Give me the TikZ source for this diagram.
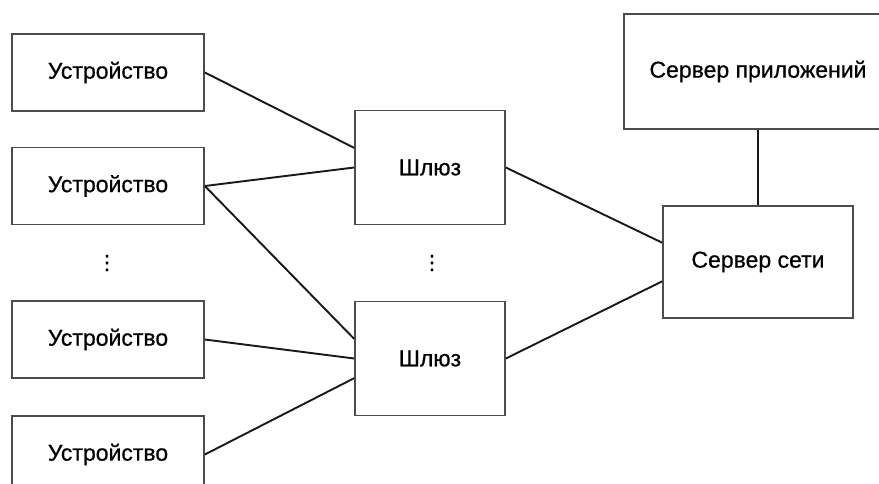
\documentclass[tikz,border=0pt]{standalone}
\usepackage{fontspec}
\setmainfont{Liberation Sans}
\newfontfamily\lblfont{Liberation Sans}[FakeBold=0.6]
\newfontfamily\symfont{DejaVu Sans}[FakeBold=1]
\usetikzlibrary{calc}
\begin{document}
\begin{tikzpicture}[x=1pt,y=-1pt,
	box/.style={draw=black!70,line width=1.7pt,fill=white,inner sep=0pt,font=\fontsize{23}{26}\lblfont},
	devbox/.style={box,minimum width=192pt,minimum height=77pt},
	gwbox/.style={box,minimum width=150pt,minimum height=114pt},
	dots/.style={inner sep=0pt,font=\fontsize{20}{24}\symfont},
	link/.style={line width=1.9pt,black!90}]
	\clip (0,0) rectangle (879,483);
	\fill[white] (0,0) rectangle (879,483);
	% devices
	\node[devbox] (dev1) at (108,72.5) {Устройство};
	\node[devbox] (dev2) at (108,186) {Устройство};
	\node[devbox] (dev3) at (108,339.5) {Устройство};
	\node[devbox] (dev4) at (108,454.5) {Устройство};
	\node[dots] (devdots) at (107,263) {⋮};
	% gateways
	\node[gwbox] (gw1) at (430,167.5) {Шлюз};
	\node[gwbox] (gw2) at (430,358.5) {Шлюз};
	\node[dots] (gwdots) at (432,263) {⋮};
	% servers
	\node[box,minimum width=268pt,minimum height=115pt] (app) at (758,71.5) {Сервер приложений};
	\node[box,minimum width=190pt,minimum height=112pt] (net) at (758,262) {Сервер сети};
	% links
	\draw[link] (dev1.east)--($(gw1.north west)!.33!(gw1.south west)$);
	\draw[link] (dev2.east)--(gw1.west);
	\draw[link] (dev2.east)--($(gw2.north west)!.33!(gw2.south west)$);
	\draw[link] (dev3.east)--(gw2.west);
	\draw[link] (dev4.east)--($(gw2.north west)!.67!(gw2.south west)$);
	\draw[link] (gw1.east)--($(net.north west)!.33!(net.south west)$);
	\draw[link] (gw2.east)--($(net.north west)!.67!(net.south west)$);
	\draw[link,line width=1.6pt] (app.south)--(net.north);
\end{tikzpicture}
\end{document}
